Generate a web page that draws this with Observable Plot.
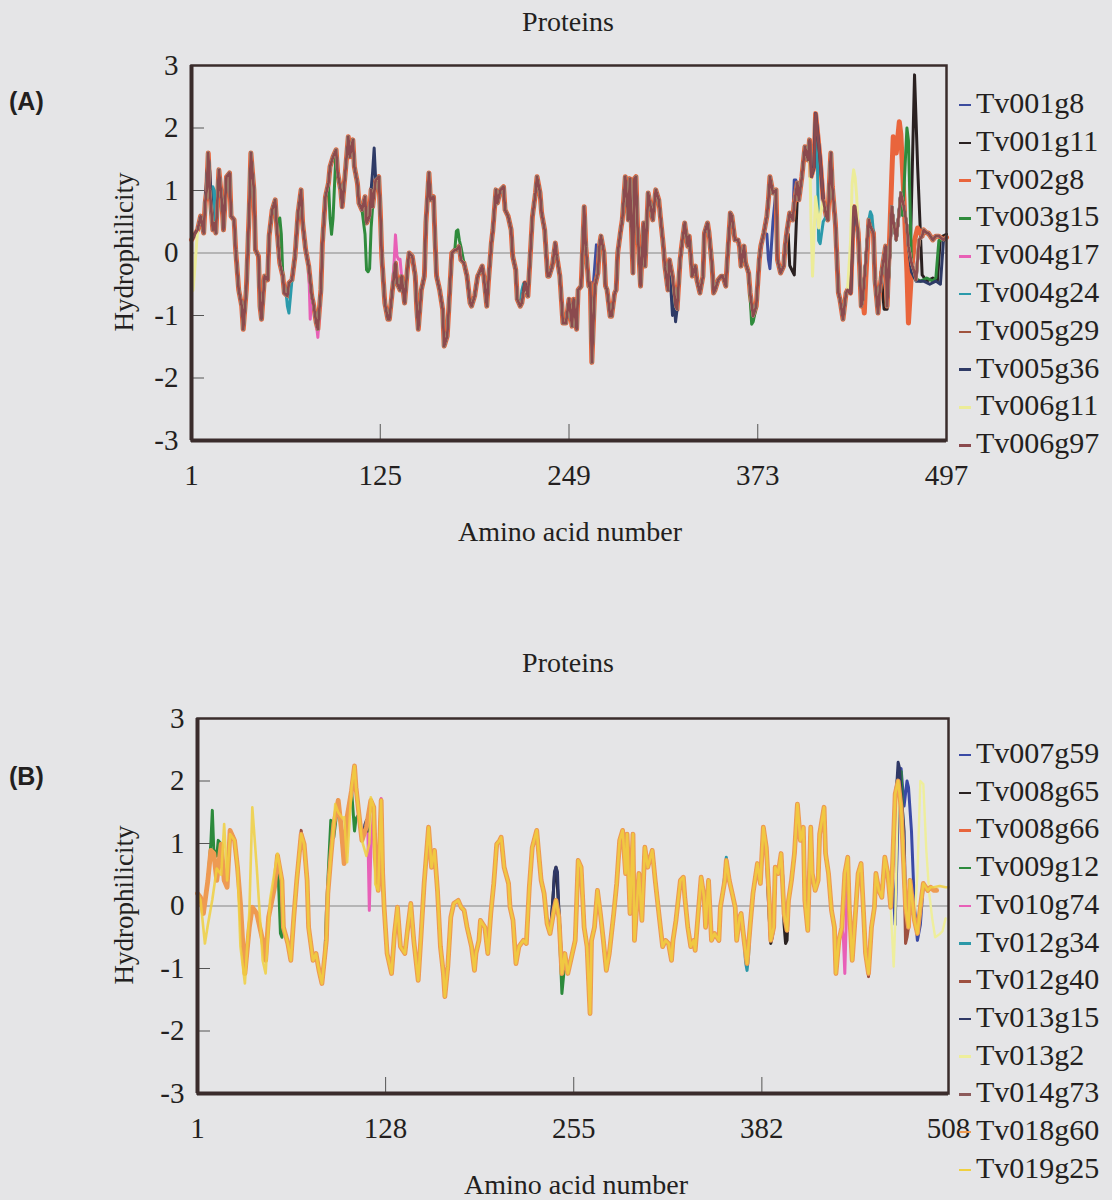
<!DOCTYPE html>
<html><head><meta charset="utf-8">
<script src="https://cdn.jsdelivr.net/npm/d3@7"></script>
<script src="https://cdn.jsdelivr.net/npm/@observablehq/plot@0.6"></script>
<style>
body{margin:0;background:#e5e5e7;}
#page{position:relative;width:1112px;height:1200px;overflow:hidden;font-family:"Liberation Serif","Times New Roman",serif;color:#231f20;background:#e5e5e7;}
.t{position:absolute;white-space:nowrap;transform:translate(-50%,-50%);font-size:28px;line-height:1;}
.rot{transform:translate(-50%,-50%) rotate(-90deg);font-size:27px;}
.tag{position:absolute;font-family:"Liberation Sans",Arial,sans-serif;font-weight:bold;font-size:25px;line-height:1;transform:translateY(-50%);}
.svgwrap{position:absolute;left:0;}
.leg{position:absolute;font-size:30px;line-height:30px;white-space:nowrap;height:30px;}
.leg span.d{display:inline-block;width:12px;height:2.5px;vertical-align:middle;margin-right:5px;position:relative;top:-1px;}
</style></head>
<body><div id="page"></div>
<script>
// ---------- Panel A data ----------
const seriesA = ["Tv001g8","Tv001g11","Tv002g8","Tv003g15","Tv004g17","Tv004g24","Tv005g29","Tv005g36","Tv006g11","Tv006g97"];
const colorsA = ["#3c4c9e","#2a2121","#e9653c","#2f8b3c","#e860b6","#2b9aab","#a0533e","#2e3a66","#ecec98","#8b4a4e"];
const widthsA = [3,3,5,3,3,3,3.2,3,3,2.8];
const xTicksA = [1,125,249,373,497];
const xInnerA = [125,249,373];
const yTicks = [-3,-2,-1,0,1,2,3];
const yInner = [-2,-1,1,2];

// main profile (residue, hydrophilicity) shared by the overlapping series of panel A
const baseA = [[1,0.21],[5,0.37],[7,0.59],[9,0.32],[10,0.80],[11,1.01],[12,1.60],[13,1.01],[15,0.37],[16,0.48],[17,0.32],[19,1.33],[21,0.80],[22,0.37],[24,1.22],[26,1.28],[27,0.59],[29,0.53],[30,0.05],[32,-0.59],[34,-0.85],[35,-1.22],[37,-0.59],[39,0.74],[40,1.60],[42,1.01],[43,0.05],[45,-0.05],[46,-0.85],[47,-1.06],[49,-0.37],[51,-0.43],[52,0.27],[54,0.69],[56,0.85],[57,0.43],[59,-0.16],[61,-0.37],[62,-0.64],[64,-0.69],[65,-0.48],[67,-0.43],[69,-0.05],[71,0.64],[73,1.01],[74,0.48],[76,0.05],[78,-0.21],[80,-0.69],[81,-0.80],[83,-1.12],[84,-1.22],[86,-0.59],[87,0.16],[89,0.90],[91,1.12],[92,1.38],[94,1.54],[96,1.65],[97,1.28],[99,1.01],[100,0.74],[102,1.28],[104,1.86],[105,1.54],[107,1.81],[108,1.38],[110,1.12],[111,0.80],[113,0.69],[115,0.90],[116,0.48],[118,0.59],[119,1.01],[120,0.74],[122,1.17],[124,1.22],[125,0.69],[126,-0.05],[128,-0.80],[130,-1.06],[131,-1.06],[133,-0.59],[135,-0.16],[136,-0.48],[138,-0.59],[139,-0.37],[141,-0.80],[143,-0.21],[144,0],[146,-0.05],[148,-0.37],[149,-0.90],[150,-1.22],[152,-0.59],[154,-0.37],[155,0.48],[157,1.28],[158,0.85],[160,0.90],[161,0.21],[162,-0.37],[164,-0.59],[166,-0.90],[167,-1.49],[169,-1.33],[170,-0.90],[172,0],[174,0.05],[175,0.05],[177,0.11],[178,-0.11],[180,-0.16],[182,-0.37],[184,-0.80],[185,-0.85],[187,-0.69],[189,-0.37],[190,-0.32],[192,-0.21],[193,-0.37],[195,-0.85],[196,-0.48],[198,0.16],[199,0.37],[201,1.01],[202,0.80],[204,1.01],[206,1.06],[207,0.69],[209,0.59],[211,0.37],[212,-0.05],[214,-0.27],[215,-0.74],[217,-0.85],[218,-0.80],[220,-0.48],[222,-0.69],[223,-0.27],[225,0.59],[227,0.96],[228,1.22],[230,0.96],[231,0.64],[233,0.37],[235,-0.37],[236,-0.37],[238,-0.21],[240,0.16],[241,-0.05],[243,-0.37],[245,-1.12],[247,-1.12],[249,-0.74],[251,-1.17],[252,-0.74],[254,-1.22],[255,-0.59],[257,-0.53],[259,0.74],[260,0.11],[262,-0.53],[263,-0.48],[264,-1.75],[266,-0.53],[268,-0.32],[269,0.11],[270,0.27],[272,0],[273,-0.53],[274,-0.59],[276,-1.01],[277,-1.01],[279,-0.64],[280,-0.59],[281,0],[283,0.37],[284,0.53],[286,1.22],[288,0.53],[289,1.19],[291,-0.32],[292,1.19],[293,1.22],[294,0.43],[296,-0.53],[298,0.48],[299,-0.21],[301,0.96],[303,0.69],[304,0.53],[306,1.01],[308,0.85],[309,0.59],[311,0.11],[312,-0.21],[314,-0.59],[315,-0.11],[317,-0.37],[319,-0.85],[320,-0.90],[322,-0.11],[323,0.11],[325,0.48],[327,0.11],[328,0.27],[330,-0.37],[332,-0.21],[333,-0.43],[335,-0.64],[337,-0.37],[338,0.32],[340,0.48],[341,0.32],[343,-0.21],[344,-0.64],[345,-0.59],[347,-0.43],[349,-0.37],[350,-0.37],[352,-0.53],[353,-0.11],[355,0.64],[356,0.59],[358,0.21],[360,0.21],[361,0.11],[362,-0.21],[364,0.11],[365,-0.16],[367,-0.32],[368,-0.64],[370,-1.01],[372,-0.85],[374,-0.11],[375,0.11],[377,0.32],[379,0.59],[380,0.85],[381,1.22],[383,0.96],[385,1.01],[386,-0.11],[388,-0.32],[390,-0.21],[391,0.11],[392,0.32],[394,0.64],[396,0.53],[397,0.80],[399,1.12],[400,0.85],[402,1.22],[404,1.70],[406,1.49],[407,1.81],[408,1.22],[410,1.38],[411,2.23],[413,1.75],[414,1.49],[416,0.85],[418,0.59],[419,0.53],[421,1.60],[422,1.06],[424,0.48],[426,-0.64],[427,-0.74],[429,-1.06],[431,-0.64],[432,-0.59],[434,-0.64],[436,0.74],[437,0.74],[439,0.32],[441,-0.85],[442,-0.74],[444,-0.11],[446,0.53],[447,0.43],[449,0.32],[450,-0.43],[452,-0.96],[453,-0.64],[455,-0.21],[457,0.11],[458,-0.85],[460,0.11],[461,0.74],[462,0.53],[464,0.21],[466,0.69],[467,0.96],[469,0.74],[471,0.43],[472,0.11],[474,-0.16],[476,-0.32],[477,-0.43],[479,0.21],[481,0.27],[482,0.37],[484,0.32],[485,0.32],[488,0.21],[490,0.27],[492,0.27],[495,0.21],[497,0.25]];

// stretches where an individual protein departs from the shared profile
const overridesA = {
  "Tv001g8": [[[265,-0.5],[267,0.13],[268,0.1],[269,0.11]],[[379,0.3],[380,-0.1],[381,-0.25],[383,0.5]],[[396,0.53],[397,1.17],[398,1.17],[399,1.0]]],
  "Tv001g11": [[[393,0.3],[394,-0.2],[396,-0.3],[397,-0.35],[399,0.9]],[[454,-0.3],[456,-0.9],[458,-0.9],[459,-0.3]],[[471,0.2],[473,-0.2],[476,2.85],[478,1.4],[481,-0.35],[484,-0.45],[488,-0.4],[491,-0.45],[493,0.25],[497,0.3]]],
  "Tv002g8": [[[442,-0.74],[443,-0.96],[444,-0.4]],[[458,-0.85],[460,0.5],[461,1.2],[462,1.86],[464,1.6],[466,2.1],[467,1.9],[469,0.9],[471,-0.3],[472,-1.12],[474,-0.3],[476,0.2],[478,0.4],[481,0.27]]],
  "Tv003g15": [[[57,0.43],[59,0.56],[60,0.3],[61,-0.37]],[[91,1.12],[92,0.56],[93,0.3],[94,0.56],[96,1.65]],[[113,0.69],[115,0.3],[116,-0.27],[117,-0.3],[118,-0.25],[119,0.4],[120,0.74]],[[174,0.05],[175,0.35],[176,0.37],[177,0.2],[178,0.1]],[[367,-0.32],[368,-0.7],[369,-1.14],[370,-1.1],[372,-0.85]],[[468,0.6],[469,1.0],[471,2.0],[472,1.8],[474,-0.2],[476,-0.4],[480,-0.45],[484,-0.4],[488,-0.45],[490,-0.4],[492,0.2]]],
  "Tv004g17": [[[78,-0.21],[79,-1.06],[80,-0.69]],[[83,-1.12],[84,-1.35],[86,-0.59]],[[134,-0.2],[135,0.29],[136,-0.05],[137,-0.1],[138,-0.1],[139,-0.37]]],
  "Tv004g24": [[[14,0.6],[15,1.06],[16,1.0],[17,0.32]],[[63,-0.6],[64,-0.85],[65,-0.96],[66,-0.7],[67,-0.43]],[[217,-0.85],[218,-0.6],[219,-0.5],[220,-0.48]],[[412,1.75],[413,0.2],[414,0.15],[416,0.5]],[[446,0.53],[447,0.66],[448,0.6],[449,0.32]]],
  "Tv005g36": [[[11,1.2],[12,1.55],[13,1.3]],[[119,1.01],[120,1.3],[121,1.68],[122,1.17]],[[315,-0.11],[316,-0.6],[317,-1.0],[318,-0.7],[319,-1.1],[320,-0.9]],[[474,-0.3],[477,-0.45],[482,-0.45],[486,-0.5],[490,-0.45],[493,-0.5],[495,0.2],[497,0.25]]],
  "Tv006g11": [[[1,-0.5],[2,-0.6],[3,-0.3],[5,0.37]],[[218,-0.8],[219,-0.65],[220,-0.6],[221,-0.55]],[[407,1.81],[408,0.5],[409,-0.37],[410,0.3],[411,0.9],[412,0.7],[413,0.4],[414,0.6],[416,0.85]],[[433,-0.2],[434,0.2],[435,1.1],[436,1.33],[437,1.2],[438,0.9],[439,0.32]]]
};

// ---------- Panel B data ----------
const seriesB = ["Tv007g59","Tv008g65","Tv008g66","Tv009g12","Tv010g74","Tv012g34","Tv012g40","Tv013g15","Tv013g2","Tv014g73","Tv018g60","Tv019g25"];
const colorsB = ["#3a4aa5","#2a2222","#e8653c","#2c8a3c","#e860b8","#2b98a8","#9e5040","#2f3866","#eeee9c","#8c5a5a","#ee9a52","#f0d040"];
const widthsB = [3,3,3.2,3,3,3,3,3,2.4,3,4.8,2.6];
const opacB = [1,1,1,1,1,1,1,1,1,1,1,0.85];
const xTicksB = [1,128,255,382,508];
const xInnerB = [128,255,382];

const baseB = [[1,0.20],[3,0.14],[5,-0.12],[8,0.41],[10,0.89],[12,0.84],[14,0.41],[17,0.99],[19,0.41],[21,0.30],[23,1.21],[26,1.05],[28,0.62],[30,0.04],[32,-0.76],[33,-1.08],[36,-0.34],[38,-0.02],[41,-0.12],[45,-0.55],[47,-0.87],[49,-0.18],[53,0.30],[55,0.81],[58,0.41],[59,-0.34],[62,-0.60],[64,-0.87],[66,-0.18],[68,0.41],[71,1.15],[73,0.99],[75,0.41],[76,-0.34],[79,-0.87],[81,-0.76],[83,-1.03],[85,-1.24],[88,-0.55],[89,0.20],[91,0.78],[93,1.31],[96,1.69],[98,1.26],[100,0.68],[102,1.42],[105,1.85],[107,2.24],[108,1.90],[110,1.47],[112,1.05],[115,1.26],[118,1.69],[120,1.58],[121,0.78],[123,0.25],[125,1.69],[126,0.52],[127,-0.02],[129,-0.76],[132,-1.08],[134,-0.44],[136,-0.02],[138,-0.65],[141,-0.76],[143,-0.34],[145,0.04],[147,-0.55],[150,-1.19],[152,-0.44],[154,0.36],[157,1.26],[159,0.62],[161,0.89],[163,0.25],[165,-0.65],[167,-1.08],[168,-1.45],[170,-0.97],[172,-0.18],[174,0.04],[177,0.09],[179,-0.02],[181,-0.07],[183,-0.34],[186,-0.65],[188,-1.03],[189,-0.76],[191,-0.55],[192,-0.23],[195,-0.34],[197,-0.76],[199,-0.12],[201,0.36],[203,0.99],[205,1.05],[206,1.10],[208,0.62],[211,0.36],[212,-0.02],[214,-0.23],[216,-0.92],[218,-0.65],[221,-0.55],[223,-0.60],[225,0.30],[227,0.94],[230,1.21],[231,0.94],[233,0.41],[235,0.20],[237,-0.28],[239,-0.44],[242,-0.02],[243,0.09],[245,-0.18],[247,-1.08],[249,-0.76],[251,-1.08],[256,-0.55],[258,0.73],[260,0.62],[262,-0.34],[264,-0.65],[266,-1.72],[267,-0.55],[269,-0.34],[271,0.25],[273,-0.12],[275,-0.55],[277,-1.03],[279,-0.76],[282,-0.12],[284,0.36],[286,1.05],[288,1.21],[290,0.52],[291,1.15],[293,-0.12],[295,1.15],[296,-0.55],[299,0.52],[301,-0.23],[303,0.94],[305,0.62],[308,0.89],[310,0.41],[312,-0.02],[313,-0.23],[315,-0.65],[317,-0.55],[319,-0.60],[321,-0.87],[322,-0.55],[324,-0.23],[327,0.41],[329,0.46],[330,0.14],[332,-0.34],[334,-0.65],[336,-0.55],[337,-0.71],[339,-0.12],[341,0.46],[343,0.14],[344,-0.34],[346,0.41],[348,-0.55],[350,-0.44],[353,-0.55],[354,-0.02],[357,0.41],[358,0.73],[360,0.41],[362,0.20],[364,-0.02],[365,-0.55],[367,-0.18],[368,-0.12],[370,-0.55],[372,-0.92],[374,-0.34],[376,0.20],[379,0.68],[381,0.36],[383,1.26],[385,0.94],[387,0.09],[388,-0.55],[390,-0.34],[391,0.62],[393,0.52],[395,0.84],[397,-0.12],[399,-0.39],[400,0.09],[402,0.41],[404,0.84],[406,1.63],[408,1.05],[410,1.26],[411,0.09],[413,-0.39],[415,1.26],[416,0.52],[418,0.25],[420,0.41],[421,1.15],[424,1.58],[425,0.84],[427,0.52],[429,-0.07],[431,-0.34],[432,-1.08],[434,-0.55],[436,-0.34],[438,0.52],[440,0.78],[441,-0.02],[443,-0.87],[445,-0.18],[447,0.52],[449,0.68],[450,0.20],[452,-0.76],[454,-1.08],[456,-0.34],[458,-0.02],[459,0.52],[461,0.25],[463,0.14],[465,0.78],[467,0.52],[469,-0.02],[470,0.52],[472,1.79],[474,2.0],[476,1.58],[477,1.05],[479,-0.02],[481,-0.34],[482,0.41],[485,-0.23],[487,-0.44],[489,-0.02],[491,0.36],[494,0.25],[496,0.30],[498,0.25],[500,0.25]];

const overridesB = {
  "Tv007g59": [[[470,0.52],[472,-0.3],[474,1.5],[476,2.2],[478,1.6],[480,2.0],[481,1.9],[483,1.2],[485,0.0],[487,-0.55],[489,-0.3]]],
  "Tv008g65": [[[240,-0.2],[242,0.5],[243,0.62],[244,0.3],[246,-0.5]],[[386,0.3],[387,-0.2],[388,-0.6],[389,-0.5]],[[396,0.5],[397,-0.3],[398,-0.6],[399,-0.55],[400,0.09]]],
  "Tv008g66": [[[106,2.0],[107,2.1],[108,1.9]]],
  "Tv009g12": [[[8,0.41],[10,1.0],[11,1.53],[12,0.9],[14,0.8],[15,1.05],[17,0.99]],[[56,0.2],[57,-0.44],[58,-0.5],[59,-0.34]],[[87,-0.8],[88,-0.1],[89,0.4],[91,1.37],[93,1.1]],[[105,1.85],[106,1.53],[107,1.2],[108,1.4]],[[245,-0.18],[246,-0.8],[247,-1.4],[249,-0.9]],[[472,1.79],[474,2.1],[476,2.15],[477,1.5]]],
  "Tv010g74": [[[116,1.2],[117,-0.07],[118,0.9]],[[123,0.25],[124,1.1],[125,1.72],[126,0.6]],[[436,-0.34],[437,-0.5],[438,-1.08],[439,-0.2]]],
  "Tv012g34": [[[356,0.3],[357,0.5],[358,0.78],[359,0.5]],[[370,-0.55],[371,-0.9],[372,-1.03],[373,-0.8]]],
  "Tv012g40": [[[70,0.9],[71,1.21],[72,1.0]],[[453,-0.9],[454,-1.13],[455,-0.6]],[[478,0.6],[479,-0.6],[480,-0.5]]],
  "Tv013g15": [[[113,1.1],[114,1.3],[115,1.37],[116,1.2]],[[241,0.1],[242,0.55],[243,0.62],[244,0.55],[245,-0.1]],[[472,1.5],[474,2.3],[475,2.2],[476,1.8],[478,1.2]]],
  "Tv013g2": [[[469,-0.02],[470,-0.5],[471,-0.97],[472,-0.3]],[[485,-0.23],[487,0.5],[489,2.0],[491,1.95],[493,0.9],[495,0.2],[497,-0.2],[499,-0.5],[502,-0.45],[504,-0.4],[506,-0.2]]],
  "Tv019g25": [[[1,0.2],[3,0.1],[6,-0.6],[8,-0.3],[11,0.1],[14,0.6],[17,0.5],[19,1.31],[21,0.41],[23,1.15]],[[28,0.62],[30,-0.65],[33,-1.24],[36,-0.1],[38,1.58],[41,0.62],[45,-0.87],[47,-1.08],[50,0.1],[55,0.84]],[[94,1.63],[96,1.5],[99,1.4],[100,1.42],[102,0.7],[105,1.9],[107,2.24]],[[115,0.8],[117,1.0],[118,1.74],[120,1.58],[121,0.35]],[[496,0.30],[498,0.3],[502,0.32],[506,0.3],[508,0.3]]]
};

// ---------- helpers ----------
function compose(base, segs) {
  let pts = base.filter(([r]) => !segs.some(s => r >= s[0][0] && r <= s[s.length - 1][0]));
  segs.forEach(s => { pts = pts.concat(s); });
  return pts.sort((a, b) => a[0] - b[0]);
}

const FRAME = "#3a2c2c";
function makePanel(cfg) {
  const marks = [Plot.ruleY([0], {stroke: "#858585", strokeWidth: 1})];
  cfg.series.forEach((name, i) => {
    const pts = compose(cfg.base, cfg.overrides[name] || []);
    marks.push(Plot.line(pts, {x: d => d[0], y: d => d[1], stroke: cfg.colors[i], strokeWidth: cfg.widths[i],
      strokeOpacity: cfg.opac ? cfg.opac[i] : 1, strokeLinejoin: "round", strokeLinecap: "round"}));
  });
  marks.push(
    Plot.axisY(yInner, {tickSize: -13, tickFormat: () => "", stroke: "#555", strokeWidth: 1}),
    Plot.axisX(cfg.xInner, {tickSize: -16, tickFormat: () => "", stroke: "#555", strokeWidth: 1}),
    Plot.axisY(yTicks, {tickSize: 0, tickPadding: 13, fontSize: 29, fill: "#231f20", tickFormat: d => String(d)}),
    Plot.axisX(cfg.xTicks, {tickSize: 0, tickPadding: 24, fontSize: 29, fill: "#231f20", tickFormat: d => String(d)}),
    Plot.frame({stroke: FRAME, strokeWidth: 2.5}),
    Plot.ruleX([cfg.xDomain[0]], {stroke: FRAME, strokeWidth: 4}),
    Plot.ruleY([-3], {stroke: FRAME, strokeWidth: 4})
  );
  return Plot.plot({
    width: 1112, height: cfg.height,
    marginLeft: cfg.ml, marginRight: cfg.mr, marginTop: cfg.mt, marginBottom: cfg.mb,
    x: {domain: cfg.xDomain, label: null},
    y: {domain: [-3, 3], label: null},
    style: {background: "transparent", fontFamily: "'Liberation Serif','Times New Roman',serif", fontSize: "29px", color: "#231f20", overflow: "visible"},
    marks
  });
}

const page = document.getElementById("page");
function addText(cls, txt, x, y) {
  const d = document.createElement("div");
  d.className = cls; d.textContent = txt;
  d.style.left = x + "px"; d.style.top = y + "px";
  page.appendChild(d);
}
function addPanel(top, cfg) {
  const w = document.createElement("div");
  w.className = "svgwrap"; w.style.top = top + "px";
  w.appendChild(makePanel(cfg));
  page.appendChild(w);
}
function addLegend(names, colors, x, y0, step) {
  names.forEach((n, i) => {
    const d = document.createElement("div");
    d.className = "leg";
    d.style.left = x + "px"; d.style.top = (y0 + i * step - 15) + "px";
    const s = document.createElement("span"); s.className = "d"; s.style.background = colors[i];
    d.appendChild(s); d.appendChild(document.createTextNode(n));
    page.appendChild(d);
  });
}

// Panel A
addPanel(0, {series: seriesA, colors: colorsA, widths: widthsA, base: baseA, overrides: overridesA,
  xDomain: [1, 497], xTicks: xTicksA, xInner: xInnerA, height: 560, ml: 191, mr: 166, mt: 65, mb: 120});
addText("t", "Proteins", 568, 22);
addText("t", "Amino acid number", 570, 532);
addText("t rot", "Hydrophilicity", 124, 252);
addText("tag", "(A)", 9, 101);
addLegend(seriesA, colorsA, 959, 103, 37.8);

// Panel B
addPanel(640, {series: seriesB, colors: colorsB, widths: widthsB, opac: opacB, base: baseB, overrides: overridesB,
  xDomain: [1, 508], xTicks: xTicksB, xInner: xInnerB, height: 560, ml: 197, mr: 164, mt: 78, mb: 107});
addText("t", "Proteins", 568, 663);
addText("t", "Amino acid number", 576, 1185);
addText("t rot", "Hydrophilicity", 124, 905);
addText("tag", "(B)", 9, 776);
addLegend(seriesB, colorsB, 959, 753, 37.7);
</script>
</body></html>
